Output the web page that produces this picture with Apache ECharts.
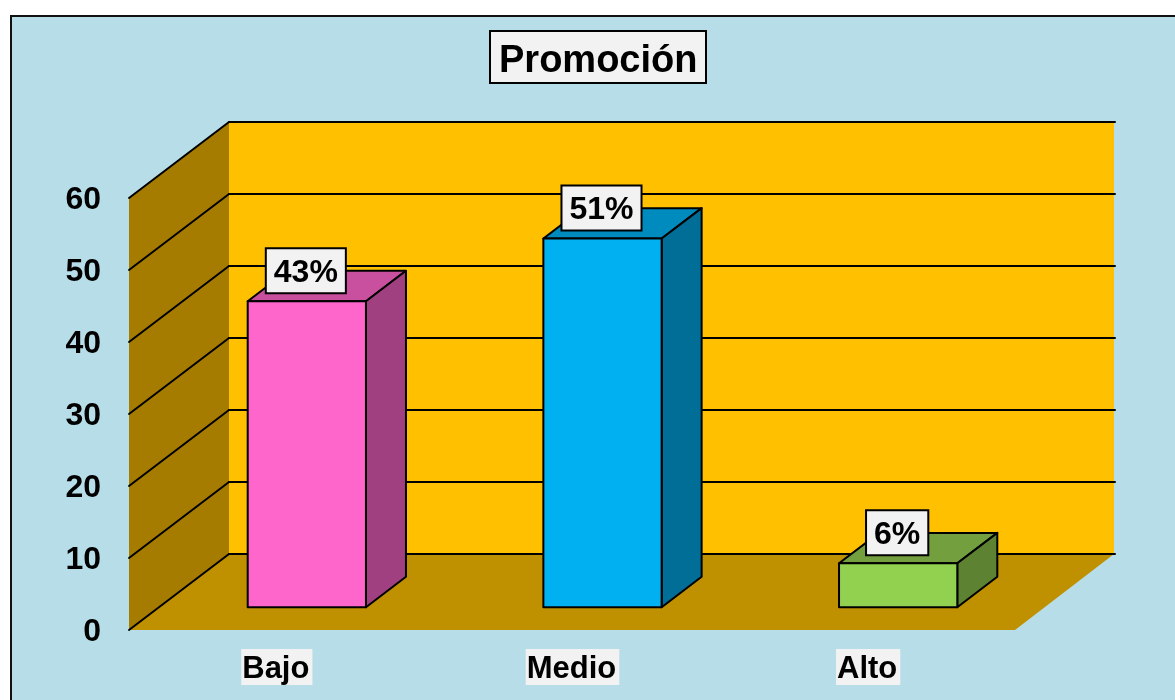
<!DOCTYPE html>
<html>
<head>
<meta charset="utf-8">
<style>html,body{margin:0;padding:0;background:#fff}#c{width:1175px;height:700px}</style>
<script src="https://cdn.jsdelivr.net/npm/echarts@6/dist/echarts.min.js"></script>
</head>
<body>
<div id="c"></div>
<script>
var titleText = 'Promoción';
var categories = ['Bajo', 'Medio', 'Alto'];
var barValues = [42.5, 51.2, 6.1];
var barLabels = ['43%', '51%', '6%'];
var yTicks = [0, 10, 20, 30, 40, 50, 60];
var frontColors = ['#FF66CC', '#00B0F0', '#92D050'];
var topColors = ['#C9509F', '#008BBE', '#739F3F'];
var sideColors = ['#A04080', '#006E96', '#5C8232'];

var FONT = '"Liberation Sans", Arial, sans-serif';
var DX = 100, DY = -76;          // depth of the plot box, in pixels
var BAR_D0 = 0.3, BAR_D1 = 0.7;  // share of the depth the bars occupy
var STROKE = '#000';

function poly(points, fill, width) {
  return {
    type: 'polygon',
    shape: { points: points },
    style: { fill: fill, stroke: width ? STROKE : null, lineWidth: width || 0, lineJoin: 'round' }
  };
}
function line(a, b) {
  return {
    type: 'line',
    shape: { x1: a[0], y1: a[1], x2: b[0], y2: b[1] },
    style: { stroke: STROKE, lineWidth: 2, lineCap: 'round' }
  };
}

function renderScene(params, api) {
  var cs = params.coordSys;
  var L = cs.x, R = cs.x + cs.width, T = cs.y, B = cs.y + cs.height;
  var kids = [
    poly([[L, T], [L + DX, T + DY], [L + DX, B + DY], [L, B]], '#A67C00'),
    poly([[L + DX, T + DY], [R + DX - 2, T + DY], [R + DX - 2, B + DY], [L + DX, B + DY]], '#FFC000'),
    poly([[L, B], [L + DX, B + DY], [R + DX - 2, B + DY], [R - 1, B]], '#BF9000')
  ];
  yTicks.forEach(function (t) {
    var y = api.coord([0, t])[1];
    kids.push(line([L, y], [L + DX, y + DY]));
    kids.push(line([L + DX, y + DY], [R + DX - 1, y + DY]));
  });
  return { type: 'group', children: kids };
}

function renderBar(params, api) {
  var i = api.value(0), v = api.value(1);
  var c = api.coord([i, v]), base = api.coord([i, 0]);
  var w = api.size([1, 0])[0] * 0.4;
  var x0 = c[0] - w / 2 + DX * BAR_D0, x1 = x0 + w;
  var yT = c[1] + DY * BAR_D0, yB = base[1] + DY * BAR_D0;
  var ox = DX * (BAR_D1 - BAR_D0), oy = DY * (BAR_D1 - BAR_D0);
  return {
    type: 'group',
    children: [
      poly([[x0, yT], [x1, yT], [x1 + ox, yT + oy], [x0 + ox, yT + oy]], topColors[i], 2),
      poly([[x1, yT], [x1 + ox, yT + oy], [x1 + ox, yB + oy], [x1, yB]], sideColors[i], 2),
      poly([[x0, yT], [x1, yT], [x1, yB], [x0, yB]], frontColors[i], 2),
      {
        type: 'text',
        style: {
          text: barLabels[i],
          x: (x0 + x1) / 2 - 1,
          y: yT - 9,
          align: 'center',
          verticalAlign: 'bottom',
          font: 'bold 32px ' + FONT,
          fill: '#000',
          backgroundColor: '#F2F2F2',
          borderColor: STROKE,
          borderWidth: 2,
          padding: [8, 7, 3, 7]
        }
      }
    ]
  };
}

var chart = echarts.init(document.getElementById('c'), null, { renderer: 'canvas' });
chart.setOption({
  animation: false,
  backgroundColor: '#fff',
  graphic: [{
    type: 'rect', z: -10, silent: true,
    shape: { x: 11, y: 16, width: 1200, height: 720 },
    style: { fill: '#B7DDE8', stroke: '#111', lineWidth: 2 }
  }],
  title: {
    text: titleText,
    left: 490, top: 31,
    padding: [12, 9, 2, 9],
    backgroundColor: '#F2F2F2',
    borderColor: STROKE,
    borderWidth: 2,
    textStyle: { fontFamily: FONT, fontWeight: 'bold', fontSize: 38, color: '#000', lineHeight: 38 }
  },
  grid: { left: 129, top: 198, width: 887, height: 432, containLabel: false },
  xAxis: {
    type: 'category',
    data: categories,
    axisLine: { show: false },
    axisTick: { show: false },
    splitLine: { show: false },
    axisLabel: {
      margin: 19,
      fontFamily: FONT, fontWeight: 'bold', fontSize: 31, color: '#000',
      backgroundColor: '#F2F2F2',
      padding: [5, 3, 0, 1]
    }
  },
  yAxis: {
    type: 'value',
    min: yTicks[0], max: yTicks[yTicks.length - 1], interval: 10,
    axisLine: { show: false },
    axisTick: { show: false },
    splitLine: { show: false },
    axisLabel: {
      margin: 28, formatter: '{n|{value}}',
      rich: { n: { fontFamily: FONT, fontWeight: 'bold', fontSize: 32, color: '#000', lineHeight: 32, padding: [4, 0, 0, 0] } }
    }
  },
  series: [
    { type: 'custom', name: 'scene', z: 1, silent: true, renderItem: renderScene, data: [[0, 0]], clip: false },
    {
      type: 'custom', name: 'Promoción', z: 2, silent: true, renderItem: renderBar, clip: false,
      encode: { x: 0, y: 1 },
      data: barValues.map(function (v, i) { return [i, v]; })
    }
  ]
});
</script>
</body>
</html>
